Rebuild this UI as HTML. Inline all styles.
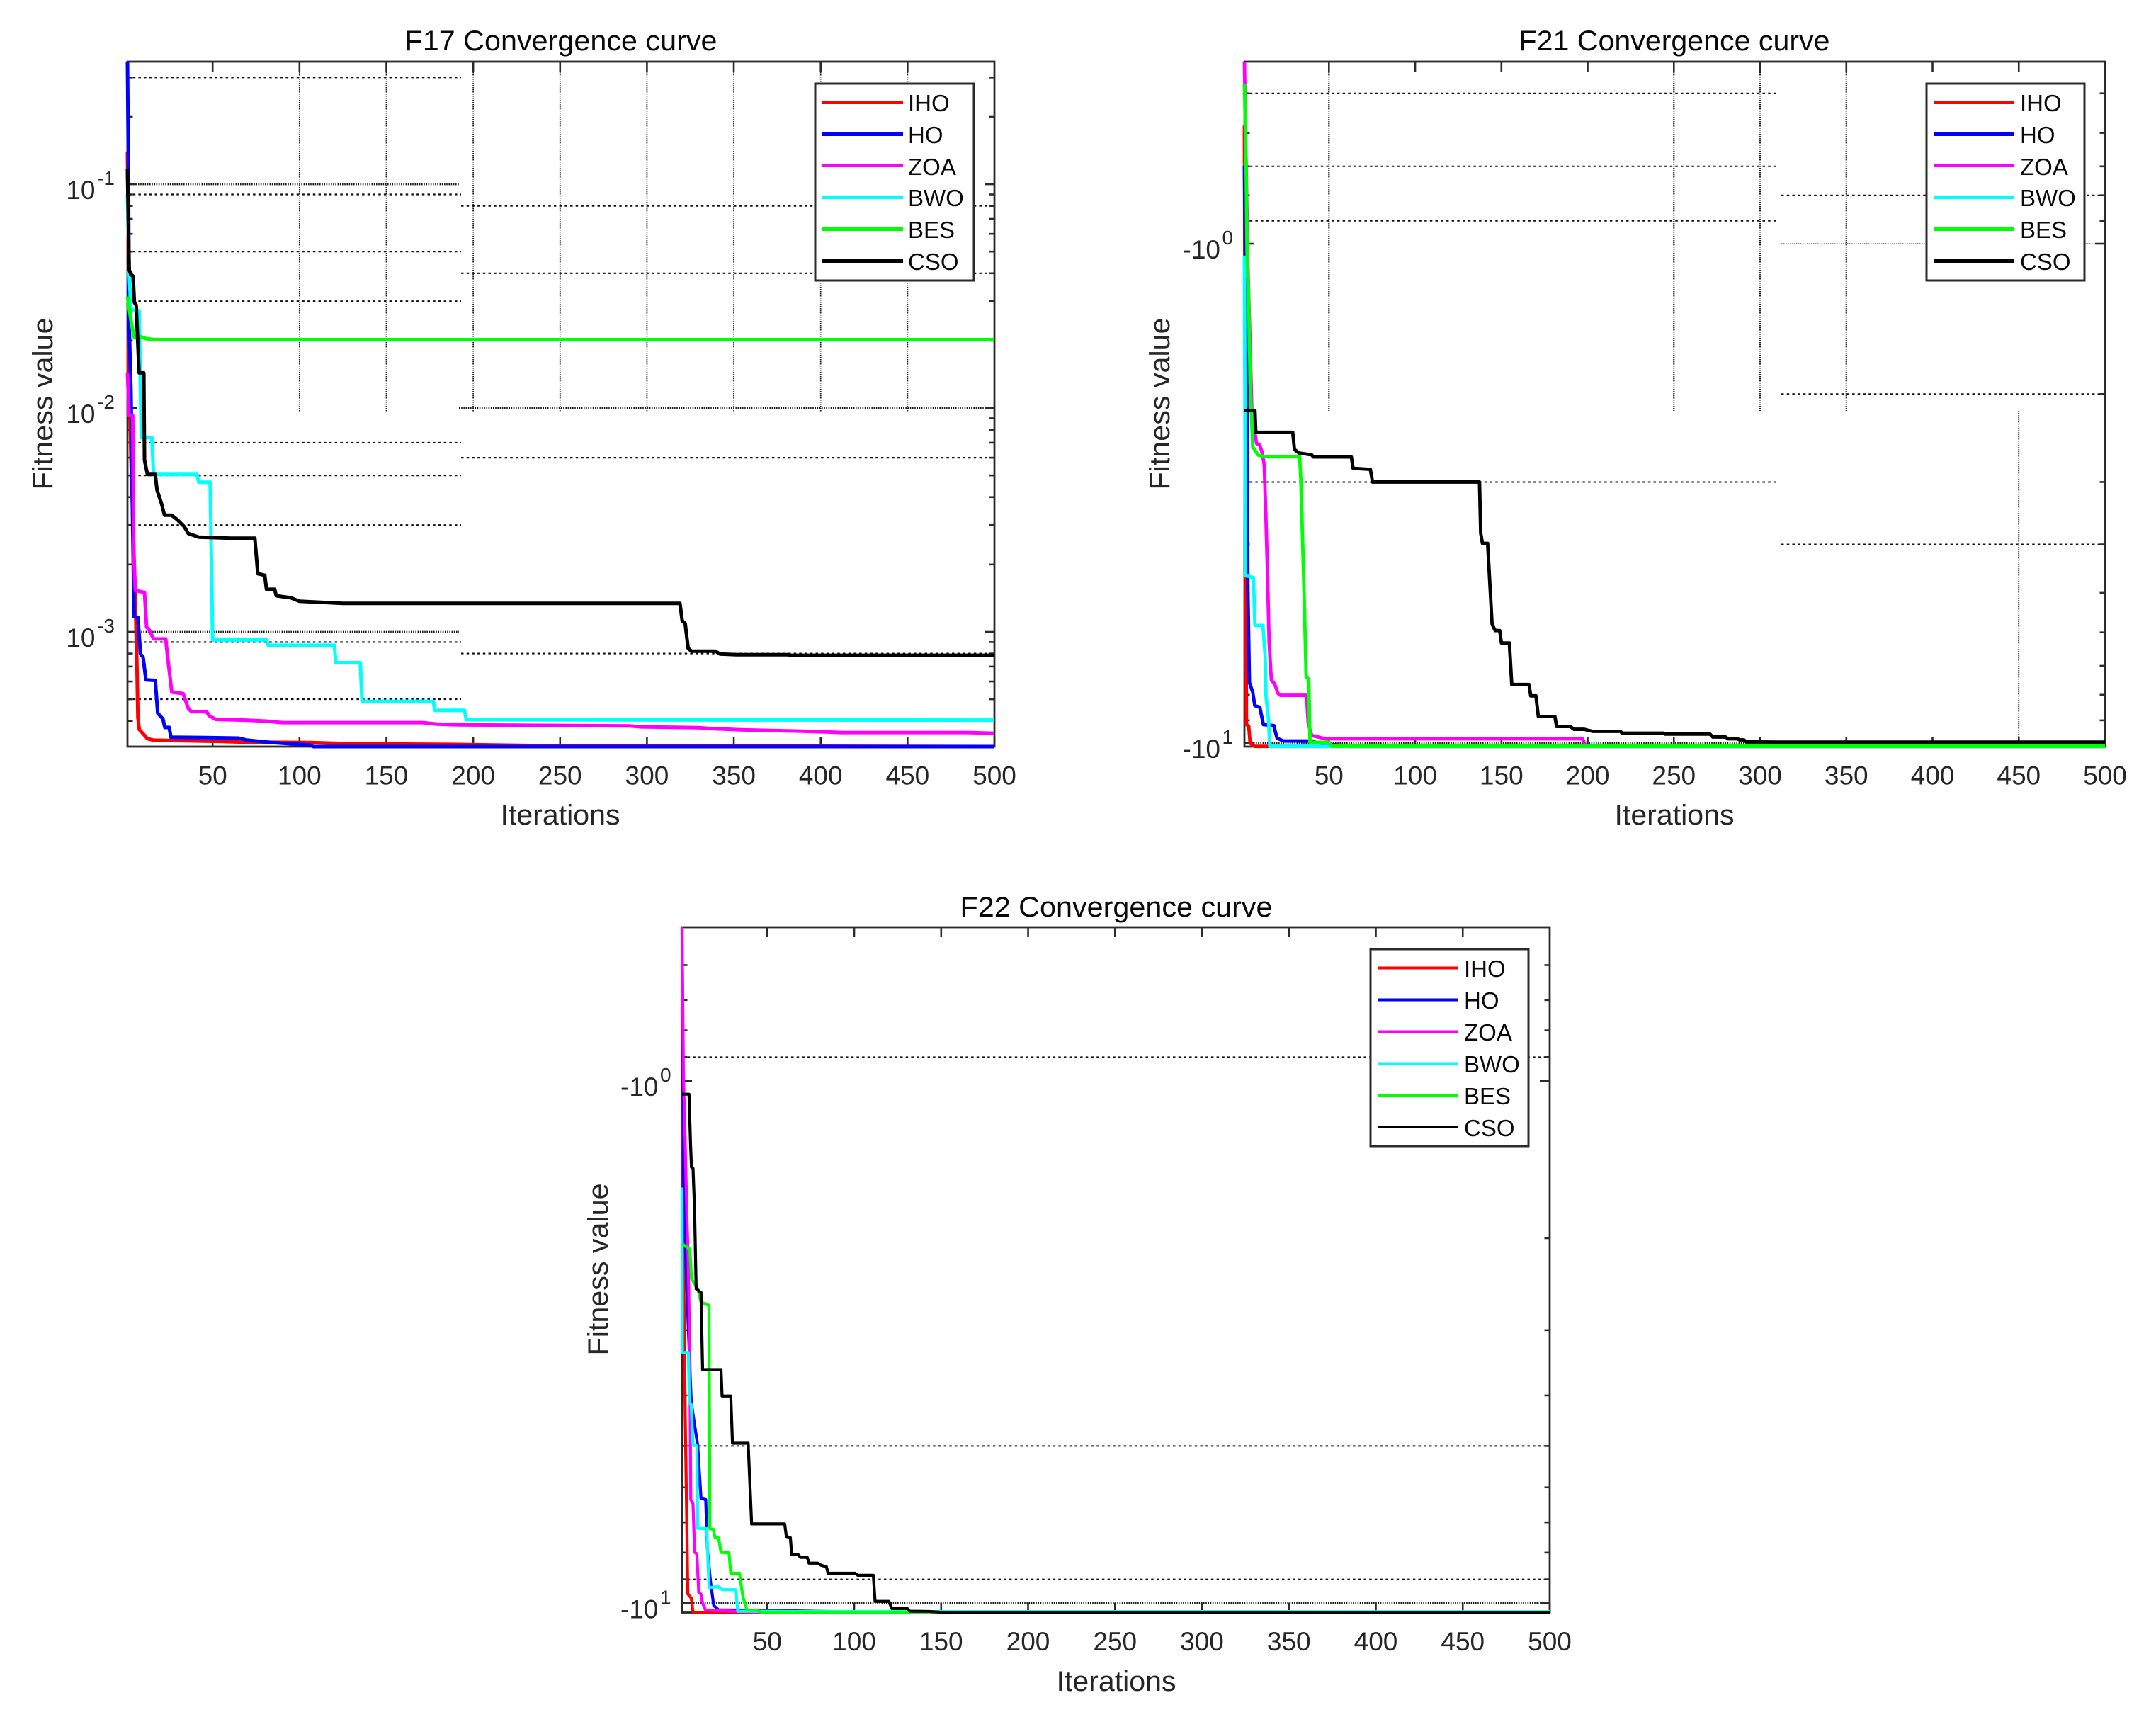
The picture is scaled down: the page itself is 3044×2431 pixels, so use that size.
<!DOCTYPE html>
<html lang="en">
<head>
<meta charset="utf-8">
<title>Convergence curves F17 F21 F22</title>
<style>
html,body{margin:0;padding:0;background:#fff}
svg{display:block}
text{font-family:"Liberation Sans",Arial,sans-serif}
.title{font-size:40px;fill:#0a0a0a;text-anchor:middle}
.axis-label{font-size:40px;fill:#262626;text-anchor:middle}
.leg{font-size:33px;fill:#0a0a0a}
</style>
</head>
<body>
<svg id="figure" xmlns="http://www.w3.org/2000/svg" width="3044" height="2431" viewBox="0 0 3044 2431">
<rect x="0" y="0" width="3044" height="2431" fill="#fff"/>

<g id="f17-layer"></g>
<g id="f21-layer"></g>
<g id="f22-layer"></g>

<text class="title" x="792" y="71" textLength="441" lengthAdjust="spacingAndGlyphs">F17 Convergence curve</text>
<text class="title" x="2364" y="71" textLength="439" lengthAdjust="spacingAndGlyphs">F21 Convergence curve</text>
<text class="title" x="1576" y="1294" textLength="441" lengthAdjust="spacingAndGlyphs">F22 Convergence curve</text>

<text class="axis-label" x="791" y="1164" textLength="169" lengthAdjust="spacingAndGlyphs">Iterations</text>
<text class="axis-label" x="2364" y="1164" textLength="169" lengthAdjust="spacingAndGlyphs">Iterations</text>
<text class="axis-label" x="1576" y="2387" textLength="169" lengthAdjust="spacingAndGlyphs">Iterations</text>

<text class="axis-label" transform="translate(74,570) rotate(-90)" textLength="243" lengthAdjust="spacingAndGlyphs">Fitness value</text>
<text class="axis-label" transform="translate(1651,570) rotate(-90)" textLength="243" lengthAdjust="spacingAndGlyphs">Fitness value</text>
<text class="axis-label" transform="translate(858,1792) rotate(-90)" textLength="243" lengthAdjust="spacingAndGlyphs">Fitness value</text>

<g>
<rect x="1151" y="118" width="224" height="278" fill="#fff" stroke="#2b2b2b" stroke-width="3"/>
<line x1="1161" x2="1275" y1="144.5" y2="144.5" stroke="#f00" stroke-width="5"/>
<text class="leg" x="1282" y="157">IHO</text>
<line x1="1161" x2="1275" y1="189.5" y2="189.5" stroke="#00f" stroke-width="5"/>
<text class="leg" x="1282" y="202">HO</text>
<line x1="1161" x2="1275" y1="233.5" y2="233.5" stroke="#f0f" stroke-width="5"/>
<text class="leg" x="1282" y="247">ZOA</text>
<line x1="1161" x2="1275" y1="278.5" y2="278.5" stroke="#0ff" stroke-width="5"/>
<text class="leg" x="1282" y="291">BWO</text>
<line x1="1161" x2="1275" y1="323.5" y2="323.5" stroke="#0f0" stroke-width="5"/>
<text class="leg" x="1282" y="336">BES</text>
<line x1="1161" x2="1275" y1="368.5" y2="368.5" stroke="#000" stroke-width="5"/>
<text class="leg" x="1282" y="381">CSO</text>
</g>

<g>
<rect x="2720" y="118" width="223" height="278" fill="#fff" stroke="#2b2b2b" stroke-width="3"/>
<line x1="2731" x2="2844" y1="144.5" y2="144.5" stroke="#f00" stroke-width="5"/>
<text class="leg" x="2852" y="157">IHO</text>
<line x1="2731" x2="2844" y1="189.5" y2="189.5" stroke="#00f" stroke-width="5"/>
<text class="leg" x="2852" y="202">HO</text>
<line x1="2731" x2="2844" y1="233.5" y2="233.5" stroke="#f0f" stroke-width="5"/>
<text class="leg" x="2852" y="247">ZOA</text>
<line x1="2731" x2="2844" y1="278.5" y2="278.5" stroke="#0ff" stroke-width="5"/>
<text class="leg" x="2852" y="291">BWO</text>
<line x1="2731" x2="2844" y1="323.5" y2="323.5" stroke="#0f0" stroke-width="5"/>
<text class="leg" x="2852" y="336">BES</text>
<line x1="2731" x2="2844" y1="368.5" y2="368.5" stroke="#000" stroke-width="5"/>
<text class="leg" x="2852" y="381">CSO</text>
</g>

<g>
<rect x="1935" y="1340" width="223" height="278" fill="#fff" stroke="#2b2b2b" stroke-width="3"/>
<line x1="1945" x2="2058" y1="1366.5" y2="1366.5" stroke="#f00" stroke-width="4"/>
<text class="leg" x="2067" y="1379">IHO</text>
<line x1="1945" x2="2058" y1="1411.5" y2="1411.5" stroke="#00f" stroke-width="4"/>
<text class="leg" x="2067" y="1424">HO</text>
<line x1="1945" x2="2058" y1="1456.5" y2="1456.5" stroke="#f0f" stroke-width="4"/>
<text class="leg" x="2067" y="1469">ZOA</text>
<line x1="1945" x2="2058" y1="1501.5" y2="1501.5" stroke="#0ff" stroke-width="4"/>
<text class="leg" x="2067" y="1514">BWO</text>
<line x1="1945" x2="2058" y1="1546" y2="1546" stroke="#0f0" stroke-width="4"/>
<text class="leg" x="2067" y="1559">BES</text>
<line x1="1945" x2="2058" y1="1591" y2="1591" stroke="#000" stroke-width="4"/>
<text class="leg" x="2067" y="1604">CSO</text>
</g>
</svg>

<script>
// ---------- shared axis data ----------
const xTickValues = [50, 100, 150, 200, 250, 300, 350, 400, 450, 500];

// ---------- F17 data ----------
const f17YTicks = [0.1, 0.01, 0.001];
const f17YTickExponents = ['-1', '-2', '-3'];
const f17GridLeft = [0.3, 0.09, 0.05, 0.03, 0.007, 0.005, 0.003, 0.0009, 0.0005];
const f17GridRight = [0.08, 0.04, 0.02, 0.006, 0.0008];
const f17GridVertical = [100, 150, 200, 250, 300, 350, 400, 450];

const f17ItersIHO = [1, 1.5, 2, 3, 4.5, 5.5, 6.5, 7, 7.8, 9.8, 12.5, 16, 54, 65, 106, 130, 187, 237, 500];
const f17ValsIHO = [0.14, 0.05, 0.016, 0.006, 0.0025, 0.0014, 0.00068, 0.000414, 0.000366, 0.000352, 0.000333, 0.000328, 0.000324, 0.000322, 0.00032, 0.000316, 0.000314, 0.00031, 0.000307];
const f17ItersHO = [1, 1.5, 2, 3, 4, 4.8, 7, 8.5, 10, 11.6, 17, 18.4, 21.4, 22.5, 25, 26, 46, 65, 70, 84, 106, 108, 500];
const f17ValsHO = [0.353, 0.13, 0.023, 0.012, 0.003, 0.00117, 0.00116, 0.000797, 0.00077, 0.00061, 0.000607, 0.000433, 0.000408, 0.000374, 0.000374, 0.000338, 0.000337, 0.000335, 0.000328, 0.00032, 0.000312, 0.000307, 0.000307];
const f17ItersZOA = [1, 2, 4, 4.6, 5.5, 10.8, 12, 13.5, 16, 23, 24, 26.5, 33, 36, 37.8, 46.5, 48, 52, 69, 81, 90, 171, 179, 192, 290, 296.5, 329.6, 337.8, 343, 353.8, 373.7, 387.6, 403, 411.6, 484.7, 500];
const f17ValsZOA = [0.0144, 0.00925, 0.00925, 0.00226, 0.00153, 0.0015, 0.00105, 0.00102, 0.00093, 0.00093, 0.000785, 0.000538, 0.00053, 0.000455, 0.00044, 0.00044, 0.000422, 0.000406, 0.000403, 0.000399, 0.000393, 0.000393, 0.000387, 0.000384, 0.00038, 0.000376, 0.000373, 0.000369, 0.000368, 0.000365, 0.000362, 0.00036, 0.000357, 0.000355, 0.000355, 0.000352];
const f17ItersBWO = [1, 2, 3, 7.7, 8.3, 9, 15, 16, 41, 42, 48.6, 50, 81, 82, 120, 121, 135, 136, 177, 178, 195, 196, 500];
const f17ValsBWO = [0.0906, 0.0401, 0.0275, 0.0272, 0.0144, 0.00738, 0.00738, 0.00505, 0.00505, 0.00466, 0.00466, 0.00092, 0.00092, 0.000871, 0.000871, 0.000728, 0.000728, 0.000489, 0.000489, 0.000446, 0.000446, 0.000405, 0.000403];
const f17ItersBES = [1, 3.5, 5, 8.7, 12, 17, 500];
const f17ValsBES = [0.0315, 0.0233, 0.0206, 0.0208, 0.0204, 0.0202, 0.0202];
const f17ItersCSO = [1, 2, 3, 4.2, 5, 6, 7.7, 10.4, 10.8, 12.5, 17, 18, 20.6, 22.3, 26.4, 29.5, 33.7, 36, 42, 60.7, 74.3, 76, 80, 81, 85.7, 86.6, 95, 100, 125, 319, 320.3, 322, 323.7, 325.5, 339.4, 342, 351.6, 381.5, 383, 500];
const f17ValsCSO = [0.117, 0.0414, 0.0394, 0.0389, 0.0296, 0.0288, 0.01436, 0.01436, 0.00585, 0.00505, 0.00505, 0.0043, 0.00374, 0.00332, 0.00332, 0.00318, 0.00295, 0.00275, 0.00265, 0.00262, 0.00262, 0.00182, 0.00179, 0.00155, 0.00155, 0.00145, 0.00142, 0.00137, 0.00134, 0.00134, 0.00112, 0.00109, 0.000846, 0.00082, 0.00082, 0.000796, 0.00079, 0.00079, 0.000785, 0.000785];

// ---------- F21 data ----------
const f21YTicks = [-1, -10];
const f21YTickExponents = ['0', '1'];
const f21GridLeft = [-0.5, -0.7, -0.9, -3];
const f21GridRight = [-0.8, -2, -4];
const f21ThinGrid = [-1];
const f21GridVerticalUpper = [50, 250, 300, 350];
const f21GridVerticalLower = [450];

const f21ItersIHO = [1, 1.5, 2.2, 3.5, 4.3, 7, 500];
const f21ValsIHO = [-0.58, -3, -9.18, -9.25, -10, -10.15, -10.15];
const f21ItersHO = [1, 2, 2.5, 3, 3.9, 5.8, 7, 9.9, 12, 18, 19.9, 23.6, 37.4, 54, 60, 500];
const f21ValsHO = [-0.7, -1.5, -1.89, -4.9, -7.56, -7.9, -8.41, -8.47, -9.18, -9.22, -9.77, -9.9, -9.9, -10.09, -10.15, -10.15];
const f21ItersZOA = [1, 2, 3, 5.3, 8, 9.9, 11.4, 12.5, 13.5, 14.4, 15.3, 16.6, 18.5, 20.5, 21.8, 37, 38, 40, 48, 197, 198.7, 203, 500];
const f21ValsZOA = [-0.432, -0.7, -1.1, -2.16, -2.51, -2.53, -2.63, -2.78, -3.58, -4.59, -6.27, -7.47, -7.61, -7.95, -8.02, -8.02, -9.13, -9.65, -9.8, -9.8, -10.09, -10.15, -10.15];
const f21ItersBWO = [1, 1.3, 1.6, 6.2, 7.1, 11.7, 13, 13.5, 15, 15.7, 500];
const f21ValsBWO = [-1.056, -2.2, -4.62, -4.66, -5.81, -5.81, -6.67, -8.05, -9, -10.15, -10.15];
const f21ItersBES = [1, 2, 2.5, 3.4, 4.3, 5.8, 9, 13, 33, 33.7, 34.6, 35.5, 36.8, 38.3, 39, 50, 51.6, 500];
const f21ValsBES = [-0.478, -0.703, -1.03, -1.26, -1.89, -2.55, -2.65, -2.67, -2.67, -2.96, -3.8, -4.88, -7.38, -7.44, -9.96, -9.96, -10.14, -10.14];
const f21ItersCSO = [1, 7.1, 7.6, 29, 30, 32.6, 40, 41, 63, 64, 74, 75.3, 137.3, 138, 139, 142, 144.6, 146.4, 149, 150, 154.6, 156, 166, 167, 170, 171.4, 181, 182, 190, 192, 198, 200, 203, 219, 220, 244, 245, 271, 272.5, 280, 281.5, 287, 288, 290.6, 292, 310, 500];
const f21ValsCSO = [-2.158, -2.158, -2.386, -2.386, -2.582, -2.624, -2.647, -2.673, -2.673, -2.816, -2.83, -3, -3, -3.8, -3.98, -3.98, -5.78, -5.95, -5.95, -6.3, -6.3, -7.63, -7.63, -8.04, -8.04, -8.84, -8.84, -9.26, -9.26, -9.38, -9.38, -9.42, -9.47, -9.47, -9.55, -9.55, -9.59, -9.59, -9.72, -9.72, -9.8, -9.8, -9.85, -9.85, -9.94, -9.95, -9.95];

// ---------- F22 data ----------
const f22YTicks = [-1, -10];
const f22YTickExponents = ['0', '1'];
const f22GridLeft = [-0.9, -5, -9];

const f22ItersIHO = [1, 1.8, 2.8, 3.7, 4.3, 6.3, 7.3, 46, 500];
const f22ValsIHO = [-0.72, -2, -4.37, -6.94, -9.6, -9.78, -10.41, -10.42, -10.42];
const f22ItersHO = [1, 1.9, 2.8, 3.8, 6.3, 10, 11.9, 14.6, 15.5, 17.3, 19.2, 22, 44, 120, 500];
const f22ValsHO = [-0.5077, -1.57, -2, -2.54, -4.13, -4.99, -6.3, -6.33, -7.8, -9.07, -10.1, -10.3, -10.31, -10.42, -10.42];
const f22ItersZOA = [1, 1.8, 2.8, 3.7, 4.6, 5.5, 6, 7.3, 8.2, 9.5, 10.6, 11.8, 12.8, 14.5, 45, 500];
const f22ValsZOA = [-0.5077, -0.98, -1.31, -1.77, -2.25, -3.47, -6.33, -6.45, -7.99, -8.04, -9.54, -9.6, -10, -10.3, -10.41, -10.42];
const f22ItersBWO = [1, 1.2, 4.6, 5.2, 6.2, 7.3, 9.5, 10, 15.2, 16.5, 22, 24, 32, 33, 70, 500];
const f22ValsBWO = [-1.6, -3.31, -3.31, -4.13, -4.16, -4.97, -5, -7.19, -7.2, -9.33, -9.3, -9.42, -9.42, -10.36, -10.37, -10.38];
const f22ItersBES = [1, 5.5, 6.4, 7.7, 10, 11.9, 16.5, 17, 19, 20, 22, 23.4, 28, 29, 34, 36, 38.3, 44, 47, 500];
const f22ValsBES = [-2.05, -2.1, -2.39, -2.43, -2.5, -2.65, -2.69, -7.2, -7.22, -7.49, -7.5, -7.99, -8.01, -8.76, -8.76, -9.72, -10.3, -10.32, -10.41, -10.42];
const f22ItersCSO = [1, 5, 5.9, 6.4, 7.3, 8.2, 9.1, 11.9, 12.8, 23.4, 24, 29, 30, 39, 41, 60, 61, 63.3, 64, 68, 69, 73, 74, 79, 81, 84, 85, 100.5, 102, 111, 112, 120, 121.6, 130.6, 132, 143, 151, 500];
const f22ValsCSO = [-1.06, -1.06, -1.33, -1.464, -1.47, -1.77, -2.5, -2.54, -3.57, -3.57, -4.01, -4.01, -4.94, -4.94, -7.05, -7.05, -7.45, -7.49, -8.06, -8.08, -8.17, -8.17, -8.38, -8.38, -8.46, -8.51, -8.76, -8.76, -8.84, -8.84, -9.92, -9.92, -10.24, -10.24, -10.36, -10.37, -10.41, -10.42];

// ---------- drawing ----------
const SVG_NS = 'http://www.w3.org/2000/svg';
const AXIS_COLOR = '#2b2b2b';
const TEXT_COLOR = '#262626';

function xScale(ax, iter) {
  return ax.left + (iter - 1) / 499 * (ax.right - ax.left);
}
function yScale(ax, value) {
  const a = Math.log10(Math.abs(ax.yAtTop));
  const b = Math.log10(Math.abs(ax.yAtBottom));
  const t = (Math.log10(Math.abs(value)) - a) / (b - a);
  return ax.top + t * (ax.bottom - ax.top);
}
function addLine(parent, name, x1, y1, x2, y2, stroke, width, dash) {
  const el = document.createElementNS(SVG_NS, 'line');
  
  
  el.setAttribute('x1', x1);
  el.setAttribute('y1', y1);
  el.setAttribute('x2', x2);
  el.setAttribute('y2', y2);
  el.setAttribute('stroke', stroke);
  el.setAttribute('stroke-width', width);
  if (dash) el.setAttribute('stroke-dasharray', dash);
  parent.appendChild(el);
  return el;
}
function addText(parent, name, x, y, size, anchor, content) {
  const el = document.createElementNS(SVG_NS, 'text');
  
  
  el.setAttribute('x', x);
  el.setAttribute('y', y);
  el.setAttribute('font-size', size);
  el.setAttribute('text-anchor', anchor);
  el.setAttribute('fill', TEXT_COLOR);
  el.textContent = content;
  parent.appendChild(el);
  return el;
}
function minorTickValues(ax) {
  const sign = ax.yAtTop < 0 ? -1 : 1;
  const lo = Math.min(Math.abs(ax.yAtTop), Math.abs(ax.yAtBottom));
  const hi = Math.max(Math.abs(ax.yAtTop), Math.abs(ax.yAtBottom));
  const out = [];
  for (let e = Math.floor(Math.log10(lo)); e <= Math.ceil(Math.log10(hi)); e++) {
    for (let m = 2; m <= 9; m++) {
      const v = m * Math.pow(10, e);
      if (v > lo && v < hi) out.push(sign * v);
    }
  }
  return out;
}

function drawChart(ax) {
  const layer = document.getElementById(ax.id + '-layer');
  const p = ax.id;

  // plot background
  const bg = document.createElementNS(SVG_NS, 'rect');
  
  
  bg.setAttribute('x', ax.left);
  bg.setAttribute('y', ax.top);
  bg.setAttribute('width', ax.right - ax.left);
  bg.setAttribute('height', ax.bottom - ax.top);
  bg.setAttribute('fill', '#fff');
  layer.appendChild(bg);

  // dotted horizontal grid
  ax.gridLeft.forEach(function (v) {
    const y = yScale(ax, v);
    addLine(layer, p + '-grid-horizontal', ax.left, y, ax.splitLeftEnd, y, '#111', ax.gridWidth, '3.5 4.2');
  });
  ax.gridRight.forEach(function (v) {
    const y = yScale(ax, v);
    addLine(layer, p + '-grid-horizontal', ax.splitRightStart, y, ax.right, y, '#111', ax.gridWidth, '3.5 4.2');
  });
  ax.thinGrid.forEach(function (v) {
    const y = yScale(ax, v);
    addLine(layer, p + '-grid-horizontal-thin', ax.splitRightStart, y, ax.right, y, '#555', 1.3, '1.5 1.5');
  });
  // hatched major grid
  ax.hatchGrid.forEach(function (g) {
    const y = yScale(ax, g.value);
    addLine(layer, p + '-grid-major', g.from, y, g.to, y, '#1a1a1a', 2.6, '1.6 1.6');
  });
  // vertical grid
  ax.gridVertical.forEach(function (g) {
    g.values.forEach(function (iter) {
      const x = xScale(ax, iter);
      addLine(layer, p + '-grid-vertical', x, g.from, x, g.to, '#222', g.width, '1.5 1.5');
    });
  });

  // axes box
  const box = document.createElementNS(SVG_NS, 'rect');
  
  
  box.setAttribute('x', ax.left);
  box.setAttribute('y', ax.top);
  box.setAttribute('width', ax.right - ax.left);
  box.setAttribute('height', ax.bottom - ax.top);
  box.setAttribute('fill', 'none');
  box.setAttribute('stroke', AXIS_COLOR);
  box.setAttribute('stroke-width', 2.8);
  layer.appendChild(box);

  // x ticks
  xTickValues.forEach(function (iter) {
    const x = xScale(ax, iter);
    addLine(layer, p + '-x-tick-bottom', x, ax.bottom, x, ax.bottom - 14, AXIS_COLOR, 2.6);
    if (iter < 500) addLine(layer, p + '-x-tick-top', x, ax.top, x, ax.top + 14, AXIS_COLOR, 2.6);
    addText(layer, p + '-x-tick-label', x, ax.bottom + 53.5, 37, 'middle', String(iter));
  });

  // y ticks
  minorTickValues(ax).forEach(function (v) {
    const y = yScale(ax, v);
    addLine(layer, p + '-y-minor-tick-left', ax.left, y, ax.left + 7.5, y, AXIS_COLOR, 2.6);
    addLine(layer, p + '-y-minor-tick-right', ax.right, y, ax.right - 7.5, y, AXIS_COLOR, 2.6);
  });
  ax.yTicks.forEach(function (v, i) {
    const y = yScale(ax, v);
    addLine(layer, p + '-y-tick-left', ax.left, y, ax.left + 14, y, AXIS_COLOR, 2.6);
    addLine(layer, p + '-y-tick-right', ax.right, y, ax.right - 14, y, AXIS_COLOR, 2.6);
    addText(layer, p + '-y-tick-label-base', ax.labelEnd, y + 21, 37, 'end', ax.yAtTop < 0 ? '-10' : '10');
    addText(layer, p + '-y-tick-label-exponent', ax.labelEnd + 2.5, y + 1, 28, 'start', ax.yExponents[i]);
  });

  // series
  ax.series.forEach(function (s) {
    const pts = s.iters.map(function (iter, i) {
      return xScale(ax, iter).toFixed(2) + ',' + yScale(ax, s.vals[i]).toFixed(2);
    }).join(' ');
    const el = document.createElementNS(SVG_NS, 'polyline');
    
    
    el.setAttribute('points', pts);
    el.setAttribute('fill', 'none');
    el.setAttribute('stroke', s.color);
    el.setAttribute('stroke-width', ax.lineWidth);
    el.setAttribute('stroke-linejoin', 'round');
    layer.appendChild(el);
  });
}

drawChart({
  id: 'f17', left: 180, right: 1404, top: 87, bottom: 1054,
  yAtTop: 0.353, yAtBottom: 0.000307,
  splitLeftEnd: 651, splitRightStart: 651,
  gridLeft: f17GridLeft, gridRight: f17GridRight, thinGrid: [],
  gridWidth: 2.2,
  hatchGrid: [{ value: 0.1, from: 195, to: 648 }, { value: 0.001, from: 180, to: 648 }, { value: 0.01, from: 648, to: 1404 }],
  gridVertical: [{ values: f17GridVertical, from: 87, to: 581, width: 1.8 }],
  yTicks: f17YTicks, yExponents: f17YTickExponents, labelEnd: 134.5,
  lineWidth: 5,
  series: [
    { name: 'iho', color: '#f00', iters: f17ItersIHO, vals: f17ValsIHO },
    { name: 'ho', color: '#00f', iters: f17ItersHO, vals: f17ValsHO },
    { name: 'zoa', color: '#f0f', iters: f17ItersZOA, vals: f17ValsZOA },
    { name: 'bwo', color: '#0ff', iters: f17ItersBWO, vals: f17ValsBWO },
    { name: 'bes', color: '#0f0', iters: f17ItersBES, vals: f17ValsBES },
    { name: 'cso', color: '#000', iters: f17ItersCSO, vals: f17ValsCSO }
  ]
});

drawChart({
  id: 'f21', left: 1757, right: 2972, top: 87, bottom: 1054,
  yAtTop: -0.432, yAtBottom: -10.16,
  splitLeftEnd: 2511, splitRightStart: 2515,
  gridLeft: f21GridLeft, gridRight: f21GridRight, thinGrid: f21ThinGrid,
  gridWidth: 2,
  hatchGrid: [{ value: -10, from: 1757, to: 2513 }],
  gridVertical: [
    { values: f21GridVerticalUpper, from: 87, to: 580, width: 2.2 },
    { values: f21GridVerticalLower, from: 580, to: 1054, width: 1.8 }
  ],
  yTicks: f21YTicks, yExponents: f21YTickExponents, labelEnd: 1723,
  lineWidth: 4.8,
  series: [
    { name: 'iho', color: '#f00', iters: f21ItersIHO, vals: f21ValsIHO },
    { name: 'ho', color: '#00f', iters: f21ItersHO, vals: f21ValsHO },
    { name: 'zoa', color: '#f0f', iters: f21ItersZOA, vals: f21ValsZOA },
    { name: 'bwo', color: '#0ff', iters: f21ItersBWO, vals: f21ValsBWO },
    { name: 'bes', color: '#0f0', iters: f21ItersBES, vals: f21ValsBES },
    { name: 'cso', color: '#000', iters: f21ItersCSO, vals: f21ValsCSO }
  ]
});

drawChart({
  id: 'f22', left: 963, right: 2188, top: 1309, bottom: 2276.5,
  yAtTop: -0.5077, yAtBottom: -10.42,
  splitLeftEnd: 2188, splitRightStart: 2188,
  gridLeft: f22GridLeft, gridRight: [], thinGrid: [],
  gridWidth: 2,
  hatchGrid: [{ value: -10, from: 963, to: 2173 }],
  gridVertical: [],
  yTicks: f22YTicks, yExponents: f22YTickExponents, labelEnd: 929.5,
  lineWidth: 4.2,
  series: [
    { name: 'iho', color: '#f00', iters: f22ItersIHO, vals: f22ValsIHO },
    { name: 'ho', color: '#00f', iters: f22ItersHO, vals: f22ValsHO },
    { name: 'zoa', color: '#f0f', iters: f22ItersZOA, vals: f22ValsZOA },
    { name: 'bwo', color: '#0ff', iters: f22ItersBWO, vals: f22ValsBWO },
    { name: 'bes', color: '#0f0', iters: f22ItersBES, vals: f22ValsBES },
    { name: 'cso', color: '#000', iters: f22ItersCSO, vals: f22ValsCSO }
  ]
});
</script>
</body>
</html>
